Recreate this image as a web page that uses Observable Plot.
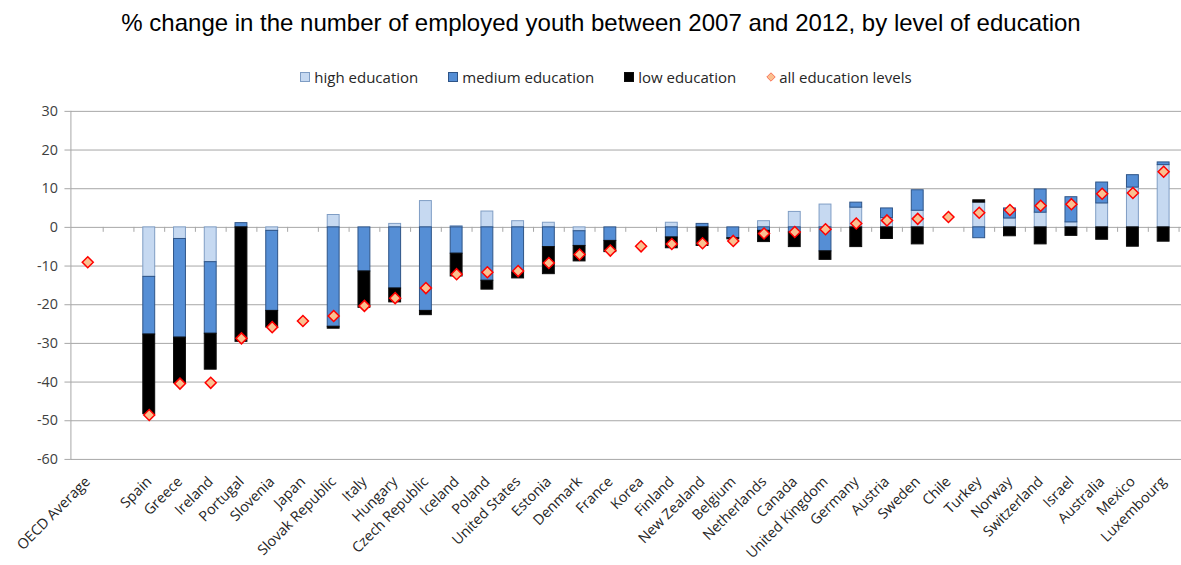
<!DOCTYPE html>
<html><head><meta charset="utf-8">
<script src="https://cdn.jsdelivr.net/npm/d3@7"></script>
<script src="https://cdn.jsdelivr.net/npm/@observablehq/plot@0.6"></script>
<style>
html,body{margin:0;padding:0;background:#fff;overflow:hidden;width:1181px;height:565px;}
#header{position:relative;width:1181px;height:95px;}
#title{position:absolute;left:0;top:9px;width:1202px;text-align:center;font-family:"Liberation Sans",Arial,sans-serif;font-size:24px;line-height:28px;color:#000;}
#legend{position:absolute;left:0;top:67px;width:1212px;display:flex;justify-content:center;align-items:center;font-family:"Open Sans",sans-serif;font-size:15px;line-height:20px;color:#262626;}
.item{display:flex;align-items:center;margin:0 15px;}
.sw{width:8px;height:8px;margin-right:4px;display:inline-block;}
#chart{width:1181px;height:470px;overflow:hidden;}
</style></head>
<body>
<div id="header"><div id="title">% change in the number of employed youth between 2007 and 2012, by level of education</div><div id="legend"></div></div>
<div id="chart"></div>
<script>
const countries = ["OECD Average"," ","Spain","Greece","Ireland","Portugal","Slovenia","Japan","Slovak Republic","Italy","Hungary","Czech Republic","Iceland","Poland","United States","Estonia","Denmark","France","Korea","Finland","New Zealand","Belgium","Netherlands","Canada","United Kingdom","Germany","Austria","Sweden","Chile","Turkey","Norway","Switzerland","Israel","Australia","Mexico","Luxembourg"];
const highEdu   = [null,null,-12.8,-3.0,-9.0,0,-0.9,null,3.2,0,0.9,6.8,0.3,4.1,1.6,1.2,-1.0,0,null,1.2,0,0,1.6,4.0,5.9,5.1,2.4,4.3,null,6.4,2.3,3.8,1.3,6.2,10.3,16.1];
const mediumEdu = [null,null,-14.9,-25.5,-18.5,1.1,-20.7,null,-25.7,-11.4,-15.8,-21.6,-6.8,-13.8,-11.7,-5.1,-3.8,-3.5,null,-2.6,0.9,-2.8,-0.9,-1.3,-6.2,1.3,2.5,5.3,null,-2.8,2.6,6.0,6.5,5.4,3.2,0.7];
const lowEdu    = [null,null,-20.6,-11.8,-9.3,-29.6,-4.3,null,-0.5,-9.4,-3.6,-1.1,-5.9,-2.3,-1.5,-7.0,-4.0,-2.9,null,-2.8,-4.8,-0.3,-2.9,-3.8,-2.2,-5.1,-3.0,-4.4,null,0.6,-2.3,-4.4,-2.2,-3.2,-5.0,-3.7];
const allEdu    = [-9.0,null,-48.5,-40.4,-40.2,-28.7,-25.8,-24.2,-22.9,-20.3,-18.3,-15.7,-12.1,-11.6,-11.3,-9.2,-7.0,-6.0,-4.9,-4.3,-4.1,-3.5,-1.6,-1.2,-0.5,1.0,1.8,2.2,2.7,3.8,4.5,5.6,6.0,8.7,8.9,14.4];
const levels = ["high education","medium education","low education"];
const yTicks = [30,20,10,0,-10,-20,-30,-40,-50,-60];

const fills = {"high education":"#C6D9F1","medium education":"#558ED5","low education":"#000000"};
const strokes = {"high education":"#7F9DC4","medium education":"#2E5487","low education":"#0d0d0d"};

const series = [highEdu, mediumEdu, lowEdu];
const rows = [];
countries.forEach((c, i) => series.forEach((s, j) => { if (s[i] != null) rows.push({country: c, level: levels[j], value: s[i]}); }));
const dots = countries.map((c, i) => ({country: c, value: allEdu[i]})).filter(d => d.value != null);

// legend
const leg = document.getElementById("legend");
levels.forEach(l => {
  const it = document.createElement("div"); it.className = "item";
  it.innerHTML = `<span class="sw" style="background:${fills[l]};border:1px solid ${strokes[l]}"></span>${l}`;
  leg.appendChild(it);
});
const itd = document.createElement("div"); itd.className = "item";
itd.innerHTML = `<svg width="10" height="10" style="margin-right:3px"><path d="M5,0.8L9.2,5L5,9.2L0.8,5Z" fill="#FAC090" stroke="#F8765A" stroke-width="1"/></svg>all education levels`;
leg.appendChild(itd);

const W = 1191, H = 470, ML = 71, MR = 0, MT = 16, MB = 103;
const step = (W - ML - MR) / countries.length;

const chart = Plot.plot({
  width: W, height: H, marginLeft: ML, marginRight: MR, marginTop: MT, marginBottom: MB,
  x: {domain: countries, paddingInner: 0.6, paddingOuter: 0.3, label: null},
  y: {domain: [-60, 30], label: null},
  color: {domain: levels, range: levels.map(l => fills[l])},
  style: {fontFamily: "Open Sans", fontSize: "14px", color: "#404040", background: "white"},
  marks: [
    Plot.ruleY(yTicks, {stroke: "#a6a6a6", strokeWidth: 1}),
    Plot.frame({anchor: "left", stroke: "#a6a6a6"}),
    Plot.ruleX(countries, {x: d => d, y1: () => 0, y2: () => 0, insetBottom: -5, dx: step / 2, stroke: "#a6a6a6"}),
    Plot.axisY({ticks: yTicks, tickSize: 6, tickPadding: 7, tickFormat: d => String(d), stroke: "#a6a6a6", fill: "#404040", fontSize: 14.5}),
    Plot.axisX({tickRotate: -45, tickSize: 0, tickPadding: 20, fill: "#262626", fontSize: 14.5}),
    Plot.barY(rows, Plot.stackY({x: "country", y: "value", fill: "level", stroke: d => strokes[d.level], strokeWidth: 1})),
    Plot.dot(dots, {x: "country", y: "value", symbol: "diamond2", r: 5, fill: "#FAC090", stroke: "#FF0000", strokeWidth: 1.5})
  ]
});
document.getElementById("chart").appendChild(chart);
</script>
</body></html>
